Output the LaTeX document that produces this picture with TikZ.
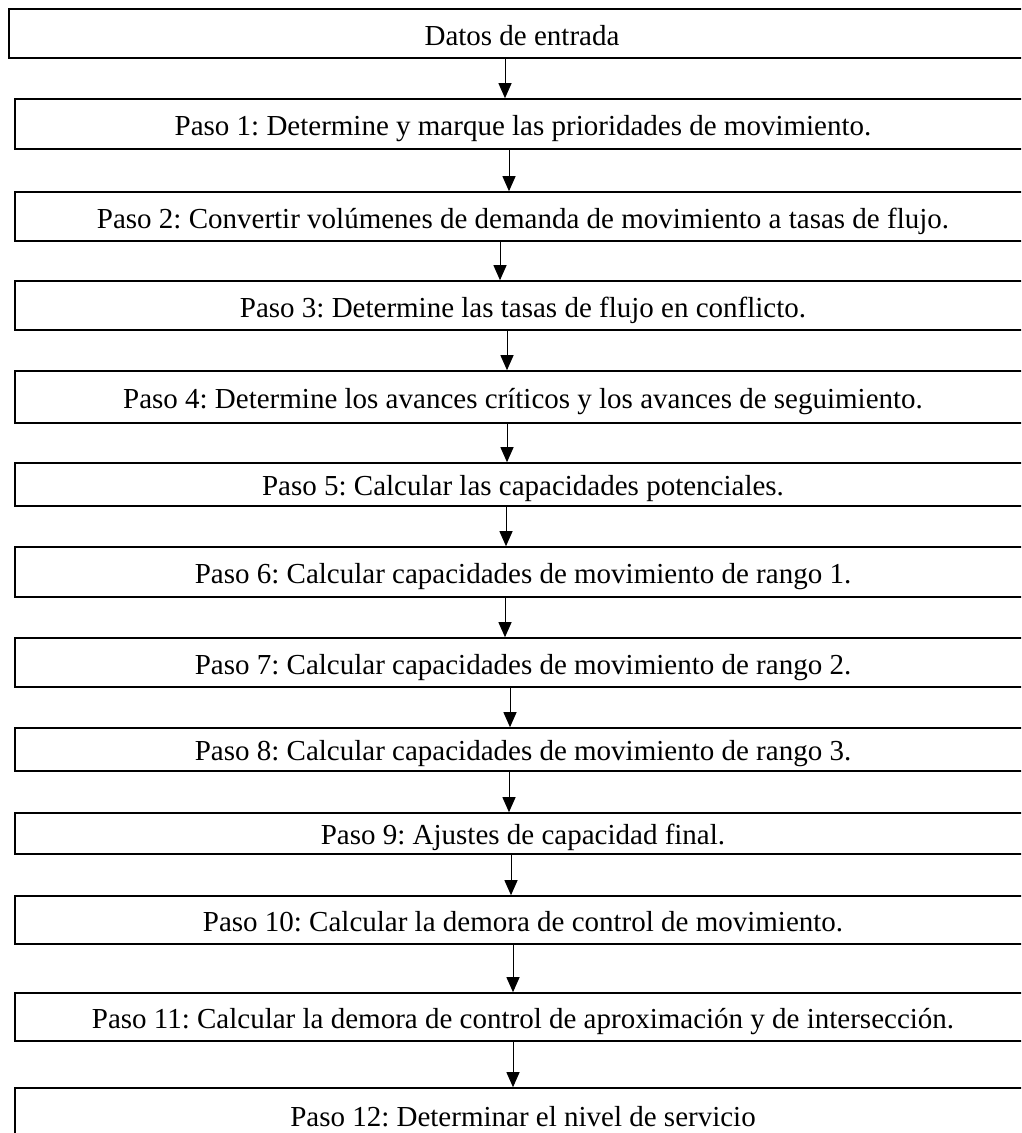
\documentclass[tikz,border=0pt]{standalone}
\usepackage{fontspec}
\setmainfont{Liberation Serif}
\usetikzlibrary{arrows.meta}
\tikzset{
  x=1pt,y=-1pt,
  stepbox/.style={draw=black, line width=1.6pt, inner sep=0pt, minimum width=1016pt},
  steptext/.style={inner sep=0pt, anchor=base, font=\fontsize{29}{32}\selectfont\frenchspacing},
  arr/.style={draw=black, line width=1pt, -{Triangle[width=13pt,length=15pt]}}
}
\begin{document}
\begin{tikzpicture}
\useasboundingbox (0,0) rectangle (1021,1133);
\fill[white] (0,0) rectangle (1021,1133);
\clip (0,0) rectangle (1021,1133);
\node[stepbox, minimum width=1026pt, minimum height=49pt] (b0) at (522,33.5) {};
\node[stepbox, minimum height=50pt] (b1) at (523,124) {};
\node[stepbox, minimum height=49pt] (b2) at (523,216.5) {};
\node[stepbox, minimum height=49pt] (b3) at (523,305.5) {};
\node[stepbox, minimum height=52pt] (b4) at (523,397) {};
\node[stepbox, minimum height=43pt] (b5) at (523,484.5) {};
\node[stepbox, minimum height=50pt] (b6) at (523,572) {};
\node[stepbox, minimum height=49pt] (b7) at (523,662.5) {};
\node[stepbox, minimum height=43pt] (b8) at (523,749.5) {};
\node[stepbox, minimum height=41pt] (b9) at (523,833.5) {};
\node[stepbox, minimum height=48pt] (b10) at (523,920) {};
\node[stepbox, minimum height=48pt] (b11) at (523,1017) {};
\node[stepbox, minimum height=52pt] (b12) at (523,1114) {};
\node[steptext] (t0) at (522,45) {Datos de entrada};
\node[steptext] (t1) at (523,135.5) {Paso 1: Determine y marque las prioridades de movimiento.};
\node[steptext] (t2) at (523,228) {Paso 2: Convertir volúmenes de demanda de movimiento a tasas de flujo.};
\node[steptext] (t3) at (523,317) {Paso 3: Determine las tasas de flujo en conflicto.};
\node[steptext] (t4) at (523,408.5) {Paso 4: Determine los avances críticos y los avances de seguimiento.};
\node[steptext] (t5) at (523,495.5) {Paso 5: Calcular las capacidades potenciales.};
\node[steptext] (t6) at (523,583.5) {Paso 6: Calcular capacidades de movimiento de rango 1.};
\node[steptext] (t7) at (523,674) {Paso 7: Calcular capacidades de movimiento de rango 2.};
\node[steptext] (t8) at (523,760.5) {Paso 8: Calcular capacidades de movimiento de rango 3.};
\node[steptext] (t9) at (523,844) {Paso 9: Ajustes de capacidad final.};
\node[steptext] (t10) at (523,931) {Paso 10: Calcular la demora de control de movimiento.};
\node[steptext] (t11) at (523,1028) {Paso 11: Calcular la demora de control de aproximación y de intersección.};
\node[steptext] (t12) at (523,1126) {Paso 12: Determinar el nivel de servicio};
\draw[arr] ([xshift=-17pt]b0.south) -- ([xshift=-18pt]b1.north);
\draw[arr] ([xshift=-14pt]b1.south) -- ([xshift=-14pt]b2.north);
\draw[arr] ([xshift=-23pt]b2.south) -- ([xshift=-23pt]b3.north);
\draw[arr] ([xshift=-16pt]b3.south) -- ([xshift=-16pt]b4.north);
\draw[arr] ([xshift=-16pt]b4.south) -- ([xshift=-16pt]b5.north);
\draw[arr] ([xshift=-17pt]b5.south) -- ([xshift=-17pt]b6.north);
\draw[arr] ([xshift=-18pt]b6.south) -- ([xshift=-18pt]b7.north);
\draw[arr] ([xshift=-13pt]b7.south) -- ([xshift=-13pt]b8.north);
\draw[arr] ([xshift=-14pt]b8.south) -- ([xshift=-14pt]b9.north);
\draw[arr] ([xshift=-12pt]b9.south) -- ([xshift=-12pt]b10.north);
\draw[arr] ([xshift=-10pt]b10.south) -- ([xshift=-10pt]b11.north);
\draw[arr] ([xshift=-10pt]b11.south) -- ([xshift=-10pt]b12.north);
\end{tikzpicture}
\end{document}
